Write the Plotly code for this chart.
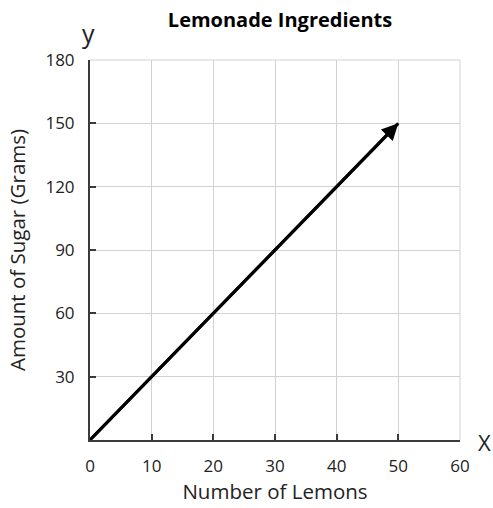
import plotly.graph_objects as go

lemons = [0, 50]
sugar = [0, 150]
x_ticks = [0, 10, 20, 30, 40, 50, 60]
y_ticks = [30, 60, 90, 120, 150, 180]

FONT = "Open Sans, sans-serif"
GRID = "#d2d2d2"
AXIS = "#3a3a3a"

fig = go.Figure()
fig.add_trace(go.Scatter(x=lemons, y=sugar, mode="lines",
                         line=dict(color="black", width=3), hoverinfo="skip",
                         showlegend=False))
fig.add_annotation(x=lemons[1], y=sugar[1], ax=lemons[0], ay=sugar[0],
                   xref="x", yref="y", axref="x", ayref="y", text="",
                   showarrow=True, arrowhead=2, arrowsize=1.1, arrowwidth=3,
                   arrowcolor="black")

fig.update_layout(
    width=493, height=508,
    margin=dict(l=90, r=33, t=60, b=68),
    plot_bgcolor="white", paper_bgcolor="white",
    font=dict(family=FONT, color="#222"),
    title=dict(text="<b>Lemonade Ingredients</b>", x=280 / 493, xanchor="center",
               y=1 - 20 / 508, yanchor="middle", font=dict(size=20, color="black")),
    xaxis=dict(range=[0, 60], tickvals=x_ticks, ticks="inside", ticklen=6,
               tickcolor=AXIS, tickwidth=1.5, ticklabelstandoff=10,
               showgrid=True, gridcolor=GRID, gridwidth=1,
               showline=True, linecolor=AXIS, linewidth=2,
               zeroline=False, automargin=False,
               tickfont=dict(size=17, color="#222"),
               title=dict(text="Number of Lemons", font=dict(size=20.5, color="#222"),
                          standoff=6)),
    yaxis=dict(range=[0, 180], tickvals=y_ticks, ticks="inside", ticklen=6,
               tickcolor=AXIS, tickwidth=1.5, ticklabelstandoff=10,
               showgrid=True, gridcolor=GRID, gridwidth=1,
               showline=True, linecolor=AXIS, linewidth=2,
               zeroline=False, automargin=False,
               tickfont=dict(size=17, color="#222"),
               title=dict(text="Amount of Sugar (Grams)", font=dict(size=20.5, color="#222"),
                          standoff=14)),
)
fig.add_shape(type="line", xref="paper", yref="paper", x0=1, x1=1, y0=0, y1=1,
              line=dict(color=GRID, width=1))
fig.add_shape(type="line", xref="paper", yref="paper", x0=0, x1=1, y0=1, y1=1,
              line=dict(color=GRID, width=1))
fig.add_annotation(text="y", xref="paper", yref="paper", x=-0.005, y=1.071,
                   xanchor="center", yanchor="middle", showarrow=False,
                   font=dict(size=25, color="#222"))
fig.add_annotation(text="X", xref="paper", yref="paper", x=1.066, y=-0.005,
                   xanchor="center", yanchor="middle", showarrow=False,
                   font=dict(size=22, color="#222"))

fig.write_html(
    "out.html",
    config={"displayModeBar": False},
    post_script="document.body.style.margin='0';document.body.style.overflow='hidden';"
                "document.documentElement.style.overflow='hidden';",
)
